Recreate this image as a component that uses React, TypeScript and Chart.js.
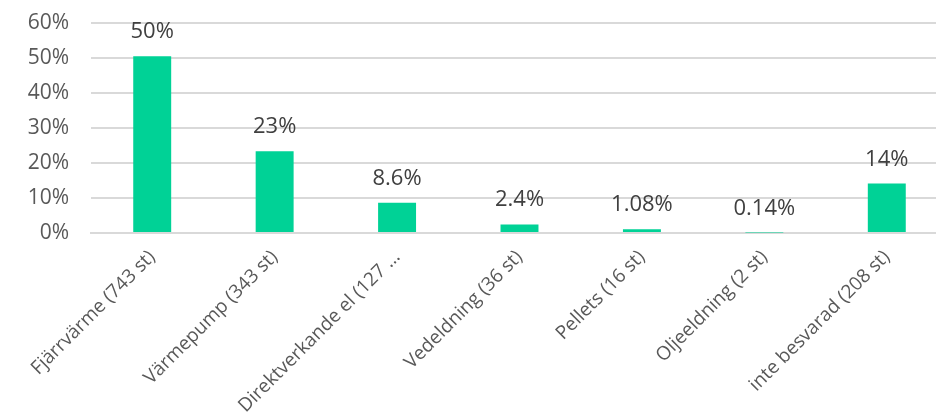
import React, { useEffect, useRef } from "react";
import { Chart, registerables } from "chart.js";

Chart.register(...registerables);

const categories = [
  "Fjärrvärme (743 st)",
  "Värmepump (343 st)",
  "Direktverkande el (127 …",
  "Vedeldning (36 st)",
  "Pellets (16 st)",
  "Oljeeldning (2 st)",
  "inte besvarad (208 st)",
];
const values = [50.4, 23.3, 8.6, 2.44, 1.08, 0.14, 14.1];
const valueLabels = ["50%", "23%", "8.6%", "2.4%", "1.08%", "0.14%", "14%"];
const yTicks = [0, 10, 20, 30, 40, 50, 60];

const FONT = "'Open Sans', sans-serif";
const SHIFT = 12;

const dataLabelPlugin = {
  id: "dataLabels",
  afterDatasetsDraw(chart: any) {
    const ctx = chart.ctx;
    const meta = chart.getDatasetMeta(0);
    ctx.save();
    ctx.font = `22px ${FONT}`;
    ctx.fillStyle = "#404040";
    ctx.textAlign = "center";
    ctx.textBaseline = "alphabetic";
    meta.data.forEach((el: any, i: number) => {
      ctx.fillText(valueLabels[i], el.x, el.y - 18);
    });
    ctx.restore();
  },
};

export default function App() {
  const ref = useRef<HTMLCanvasElement>(null);
  useEffect(() => {
    if (!ref.current) return;
    const chart = new Chart(ref.current, {
      type: "bar",
      data: {
        labels: categories,
        datasets: [
          {
            data: values,
            backgroundColor: "#00D296",
            barPercentage: 0.31,
            categoryPercentage: 1,
          },
        ],
      },
      options: {
        animation: false,
        responsive: false,
        layout: { padding: { top: 10, right: 4, left: 0, bottom: 0 } },
        plugins: { legend: { display: false }, tooltip: { enabled: false } },
        scales: {
          x: {
            grid: { display: false },
            border: { display: true, color: "#D9D9D9", width: 2 },
            ticks: {
              color: "#595959",
              font: { family: FONT, size: 19 },
              maxRotation: 45,
              minRotation: 45,
              autoSkip: false,
              padding: 5,
            },
            afterFit(scale: any) {
              scale.height = 419 - 233;
            },
          },
          y: {
            min: 0,
            max: 60,
            afterBuildTicks(scale: any) {
              scale.ticks = yTicks.map((v) => ({ value: v }));
            },
            grid: { color: "#D9D9D9", lineWidth: 2, drawTicks: false },
            border: { display: false },
            ticks: {
              color: "#595959",
              font: { family: FONT, size: 21 },
              padding: 22,
              callback: (v: any) => v + "%",
            },
            afterFit(scale: any) {
              scale.width = 91;
            },
          },
        },
      },
      plugins: [dataLabelPlugin],
    });
    return () => chart.destroy();
  }, []);
  return (
    <div
      style={{
        position: "absolute",
        left: 0,
        top: 0,
        width: 936,
        height: 419,
        overflow: "hidden",
        background: "#fff",
      }}
    >
      <canvas
        ref={ref}
        width={952}
        height={419 + SHIFT}
        style={{ display: "block", marginTop: -SHIFT }}
      />
    </div>
  );
}
